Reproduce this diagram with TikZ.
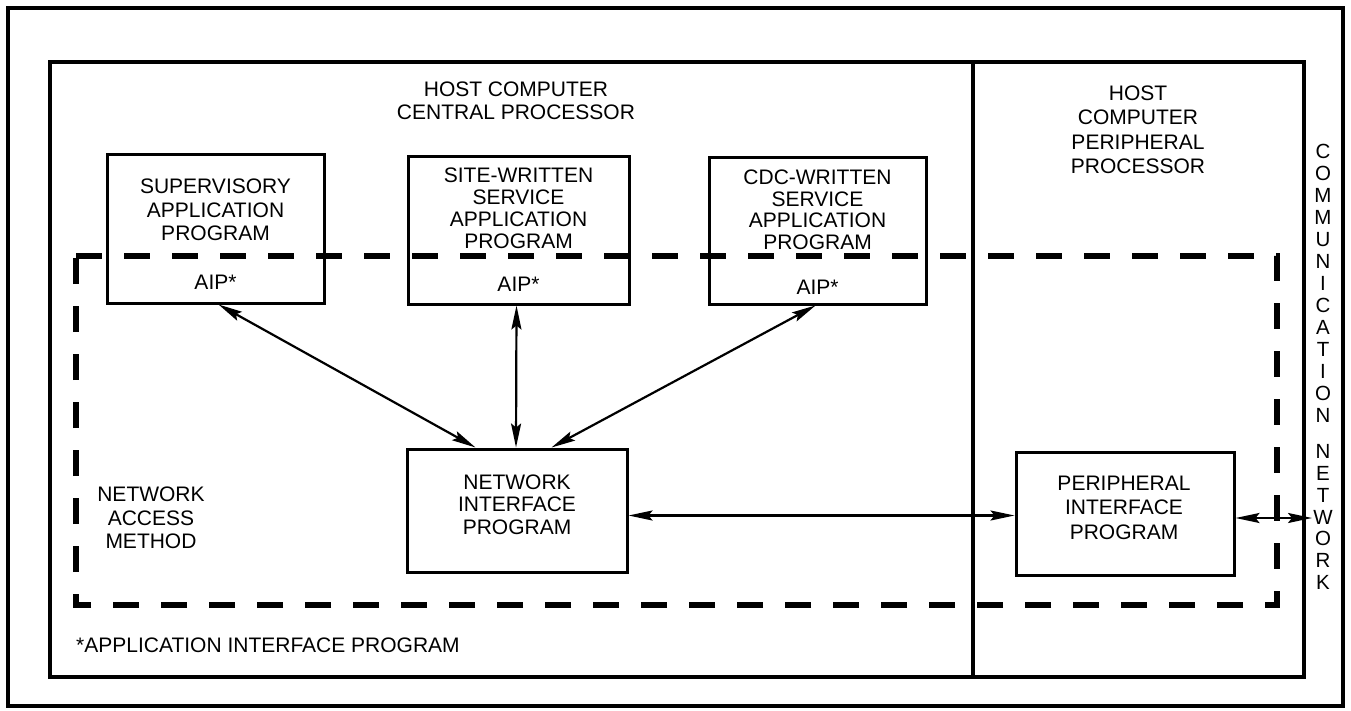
\documentclass[tikz,border=0pt]{standalone}
\usepackage{fontspec}
\setmainfont{Liberation Sans}
\usetikzlibrary{arrows.meta,calc}
\begin{document}
\begin{tikzpicture}[x=1pt,y=-1pt,
  frame/.style={draw, line width=3.2pt},
  box/.style={draw, line width=3pt, rectangle, inner sep=0pt},
  lbl/.style={align=center, font=\fontsize{21}{23}\selectfont, inner sep=0pt},
  conn/.style={line width=2.2pt, {Stealth[length=24pt,width=10pt,inset=4pt]}-{Stealth[length=24pt,width=10pt,inset=4pt]}},
  nam/.style={draw, line width=6pt, dash pattern=on 26pt off 22pt},
]
\useasboundingbox (0,0) rectangle (1351,711);
% frames
\draw[frame] (8,8) rectangle (1343,706);
\draw[frame] (50,62) rectangle (1304,677);
\draw[frame] (973,62) -- (973,677);

% section labels
\node[lbl] (hcp) at (516,101) {HOST COMPUTER\\CENTRAL PROCESSOR};
\node[lbl, font=\fontsize{21}{24.5}\selectfont] (hpp) at (1138,130) {HOST\\COMPUTER\\PERIPHERAL\\PROCESSOR};

% application boxes
\node[box, minimum width=217pt, minimum height=148pt] (sup) at (215.5,229) {};
\node[box, minimum width=221pt, minimum height=147pt] (site) at (518.5,230.5) {};
\node[box, minimum width=217pt, minimum height=146pt] (cdc) at (817.5,231) {};
\node[lbl, font=\fontsize{21}{23.5}\selectfont] (supt) at (215.5,210) {SUPERVISORY\\APPLICATION\\PROGRAM};
\node[lbl, font=\fontsize{21}{22}\selectfont] (sitet) at (518.5,208) {SITE-WRITTEN\\SERVICE\\APPLICATION\\PROGRAM};
\node[lbl, font=\fontsize{21}{21.5}\selectfont] (cdct) at (817.5,210) {CDC-WRITTEN\\SERVICE\\APPLICATION\\PROGRAM};
\node[lbl] (supa) at (215.5,282) {AIP*};
\node[lbl] (sitea) at (518.5,284) {AIP*};
\node[lbl] (cdca) at (817.5,287) {AIP*};

% interface programs
\node[box, minimum width=220pt, minimum height=123pt] (nip) at (517,510.5) {};
\node[lbl, font=\fontsize{21}{22.5}\selectfont] (nipt) at (517,504.5) {NETWORK\\INTERFACE\\PROGRAM};
\node[box, minimum width=218pt, minimum height=123pt] (pip) at (1125,513.5) {};
\node[lbl, font=\fontsize{21}{24.5}\selectfont] (pipt) at (1124,507.5) {PERIPHERAL\\INTERFACE\\PROGRAM};

% network access method boundary
\draw[nam] (76,256) -- (1277,256) -- (1277,605) -- (76,605) -- cycle;
\node[lbl, font=\fontsize{21}{23.5}\selectfont] (namt) at (151,518) {NETWORK\\ACCESS\\METHOD};

% communication network
\node[lbl, font=\fontsize{20.5}{22}\selectfont] (comm) at (1323,283) {C\\O\\M\\M\\U\\N\\I\\C\\A\\T\\I\\O\\N};
\node[lbl, font=\fontsize{20.5}{21.7}\selectfont] (netw) at (1323,517) {N\\E\\T\\W\\O\\R\\K};
\coordinate (net) at (1312,518);

% footnote
\node[lbl, anchor=west] (foot) at (76,645) {*APPLICATION INTERFACE PROGRAM};

% connectors
\draw[conn] ($(sup.south)+(3,0)$) -- ($(nip.north west)+(70,0)$);
\draw[conn] ($(site.south)+(-2,0)$) -- ($(nip.north)+(-1,0)$);
\draw[conn] ($(cdc.south)+(-2,0)$) -- ($(nip.north east)+(-77,0)$);
\draw[conn] ($(nip.east)+(0,5)$) -- ($(pip.west)+(0,2)$);
\draw[conn] ($(pip.east)+(0,4.5)$) -- (net);
\end{tikzpicture}
\end{document}
